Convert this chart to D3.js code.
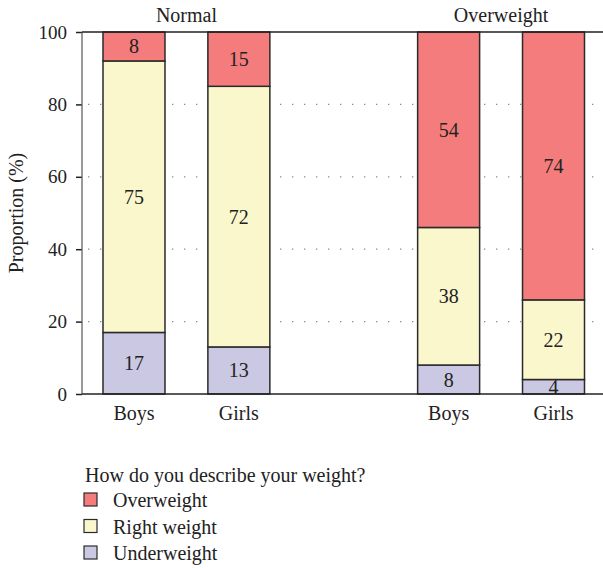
<!DOCTYPE html>
<html><head><meta charset="utf-8">
<script src="https://cdn.jsdelivr.net/npm/d3@7"></script>
<style>body{margin:0;background:#fff}svg{display:block}text{font-family:"Liberation Serif","DejaVu Serif",serif;fill:#222}</style>
</head><body><svg id="c" width="603" height="568"></svg>
<script>
const groups = ["Normal", "Overweight"];
const sexes = ["Boys", "Girls"];
const categories = ["Normal|Boys", "Normal|Girls", "Overweight|Boys", "Overweight|Girls"];
const underweight = [17, 13, 8, 4];
const rightWeight = [75, 72, 38, 22];
const overweight = [8, 15, 54, 74];
const seriesNames = ["Underweight", "Right weight", "Overweight"];
const colors = ["#cbc8e3", "#faf7cd", "#f47c7c"];
const yTicks = [0, 20, 40, 60, 80, 100];

const svg = d3.select("#c");
const L = 82, R = 603, T = 32, B = 394;
const FS = 20;
const y = d3.scaleLinear().domain([0, 100]).range([B, T]);
const slots = ["Normal|Boys", "Normal|Girls", "gap", "Overweight|Boys", "Overweight|Girls"];
const x = d3.scaleBand().domain(slots).range([134 - 52.45, 553.5 + 52.45]).paddingInner(0.409).paddingOuter(0.2045);
const bw = x.bandwidth();

// grid
svg.append("g").selectAll("line").data(yTicks.filter(d => d > 0 && d < 100)).join("line")
  .attr("x1", L + 6).attr("x2", R).attr("y1", d => y(d)).attr("y2", d => y(d))
  .attr("stroke", "#888").attr("stroke-width", 1.3).attr("stroke-dasharray", "1.3,10.7");

const data = categories.map((c, i) => ({ key: c, g: c.split("|")[0], s: c.split("|")[1], vals: [underweight[i], rightWeight[i], overweight[i]] }));
const stack = d3.stack().keys([0, 1, 2]).value((d, k) => d.vals[k]);
const stacked = stack(data);

const bars = svg.append("g");
stacked.forEach((layer, k) => {
  layer.forEach((seg, i) => {
    const d = data[i];
    bars.append("rect").attr("x", x(d.key)).attr("width", bw)
      .attr("y", y(seg[1])).attr("height", y(seg[0]) - y(seg[1]))
      .attr("fill", colors[k]).attr("stroke", "#2a2a2a").attr("stroke-width", 1.5);
  });
});
stacked.forEach((layer, k) => {
  layer.forEach((seg, i) => {
    const d = data[i];
    bars.append("text").attr("x", x(d.key) + bw / 2).attr("y", (y(seg[0]) + y(seg[1])) / 2)
      .attr("dy", "0.35em").attr("text-anchor", "middle").attr("font-size", FS)
      .text(d.vals[k]);
  });
});

// axes frame
const yAxis = d3.axisLeft(y).tickValues(yTicks).tickSize(6).tickPadding(9);
const ga = svg.append("g").attr("transform", `translate(${L},0)`).call(yAxis);
ga.select(".domain").remove();
ga.selectAll(".tick line").attr("stroke", "#222").attr("stroke-width", 1.5);
ga.selectAll(".tick text").attr("font-size", 19).attr("font-family", "Liberation Serif, serif").attr("fill", "#222");
svg.append("line").attr("x1", L).attr("x2", L).attr("y1", T).attr("y2", B).attr("stroke", "#555").attr("stroke-width", 1.2);
svg.append("line").attr("x1", L).attr("x2", R).attr("y1", T).attr("y2", T).attr("stroke", "#222").attr("stroke-width", 1.5);
svg.append("line").attr("x1", L).attr("x2", R).attr("y1", B).attr("y2", B).attr("stroke", "#222").attr("stroke-width", 1.5);

// x labels
data.forEach(d => {
  svg.append("text").attr("x", x(d.key) + bw / 2).attr("y", 420)
    .attr("text-anchor", "middle").attr("font-size", FS).text(d.s);
});
groups.forEach(g => {
  const ks = categories.filter(c => c.startsWith(g + "|"));
  const cx = (x(ks[0]) + x(ks[ks.length - 1]) + bw) / 2;
  svg.append("text").attr("x", cx).attr("y", 22)
    .attr("text-anchor", "middle").attr("font-size", FS).text(g);
});
svg.append("text").attr("transform", "translate(23,213) rotate(-90)").attr("text-anchor", "middle")
  .attr("font-size", FS).text("Proportion (%)");

// legend
const lg = svg.append("g");
lg.append("text").attr("x", 85).attr("y", 482).attr("font-size", FS).text("How do you describe your weight?");
[2, 1, 0].forEach((k, i) => {
  const yy = 500 + i * 26.5;
  lg.append("rect").attr("x", 84).attr("y", yy - 7).attr("width", 13).attr("height", 13)
    .attr("fill", colors[k]).attr("stroke", "#2a2a2a").attr("stroke-width", 1.2);
  lg.append("text").attr("x", 113).attr("y", yy).attr("dy", "0.35em").attr("font-size", FS).text(seriesNames[k]);
});
</script></body></html>
